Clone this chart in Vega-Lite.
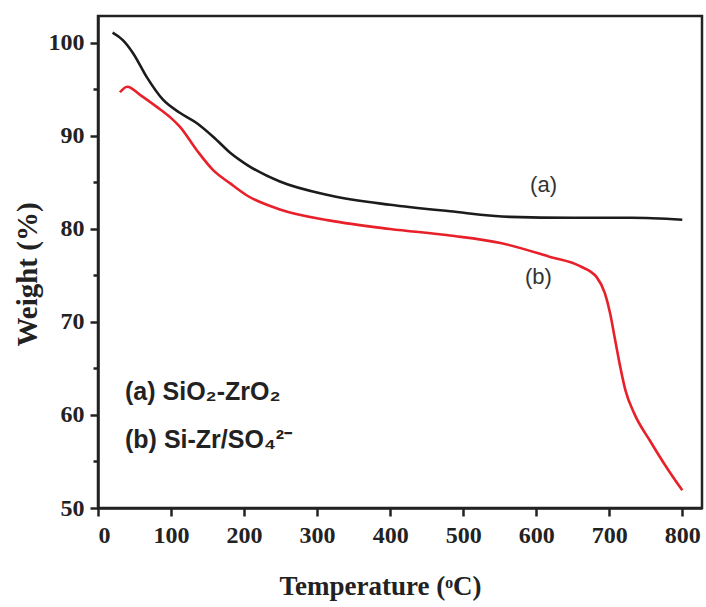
{
  "$schema": "https://vega.github.io/schema/vega-lite/v6.json",
  "autosize": {"type": "none"},
  "width": 604,
  "height": 492,
  "padding": {"left": 98, "top": 16, "right": 4, "bottom": 99},
  "background": "white",
  "config": {
    "view": {"stroke": "#222", "strokeWidth": 2.5},
    "axis": {
      "domainColor": "#222", "domainWidth": 2.5,
      "tickColor": "#222", "tickWidth": 2.5,
      "labelFont": "Liberation Serif", "labelFontWeight": "bold", "labelFontSize": 24, "labelColor": "#222",
      "titleFont": "Liberation Serif", "titleFontWeight": "bold", "titleFontSize": 27, "titleColor": "#222",
      "grid": false
    }
  },
  "datasets": {
    "curves": [
      {"s": "a", "t": 20, "w": 101.1},
      {"s": "a", "t": 34, "w": 100.3},
      {"s": "a", "t": 48, "w": 98.9},
      {"s": "a", "t": 67, "w": 96.3},
      {"s": "a", "t": 89, "w": 93.9},
      {"s": "a", "t": 112, "w": 92.5},
      {"s": "a", "t": 135, "w": 91.4},
      {"s": "a", "t": 158, "w": 89.9},
      {"s": "a", "t": 181, "w": 88.2},
      {"s": "a", "t": 204, "w": 86.9},
      {"s": "a", "t": 249, "w": 85.1},
      {"s": "a", "t": 318, "w": 83.6},
      {"s": "a", "t": 400, "w": 82.6},
      {"s": "a", "t": 482, "w": 81.9},
      {"s": "a", "t": 564, "w": 81.3},
      {"s": "a", "t": 650, "w": 81.2},
      {"s": "a", "t": 730, "w": 81.2},
      {"s": "a", "t": 800, "w": 81.0},
      {"s": "b", "t": 30, "w": 94.7},
      {"s": "b", "t": 40, "w": 95.3},
      {"s": "b", "t": 58, "w": 94.4},
      {"s": "b", "t": 81, "w": 93.1},
      {"s": "b", "t": 99, "w": 92.0},
      {"s": "b", "t": 112, "w": 91.0},
      {"s": "b", "t": 135, "w": 88.5},
      {"s": "b", "t": 158, "w": 86.3},
      {"s": "b", "t": 181, "w": 84.9},
      {"s": "b", "t": 204, "w": 83.6},
      {"s": "b", "t": 249, "w": 82.1},
      {"s": "b", "t": 318, "w": 80.9},
      {"s": "b", "t": 400, "w": 80.0},
      {"s": "b", "t": 482, "w": 79.3},
      {"s": "b", "t": 551, "w": 78.5},
      {"s": "b", "t": 619, "w": 77.0},
      {"s": "b", "t": 660, "w": 76.0},
      {"s": "b", "t": 683, "w": 74.8},
      {"s": "b", "t": 694, "w": 73.1},
      {"s": "b", "t": 701, "w": 71.0},
      {"s": "b", "t": 708, "w": 68.1},
      {"s": "b", "t": 715, "w": 65.2},
      {"s": "b", "t": 722, "w": 62.7},
      {"s": "b", "t": 734, "w": 60.2},
      {"s": "b", "t": 756, "w": 57.2},
      {"s": "b", "t": 779, "w": 54.3},
      {"s": "b", "t": 800, "w": 51.9}
    ],
    "curveLabels": [
      {"t": 610, "w": 84.7, "label": "(a)"},
      {"t": 603, "w": 74.8, "label": "(b)"}
    ],
    "legendText": [
      {"t": 37, "w": 62.5, "label": "(a) SiO₂-ZrO₂"},
      {"t": 37, "w": 57.3, "label": "(b) Si-Zr/SO₄²⁻"}
    ]
  },
  "layer": [
    {
      "data": {"name": "curves"},
      "mark": {"type": "line", "interpolate": "monotone", "strokeWidth": 2.6, "clip": true},
      "encoding": {
        "x": {
          "field": "t", "type": "quantitative",
          "scale": {"domain": [0, 827], "nice": false, "zero": false},
          "axis": {
            "values": [0, 50, 100, 150, 200, 250, 300, 350, 400, 450, 500, 550, 600, 650, 700, 750, 800],
            "labelExpr": "datum.value % 100 === 0 ? datum.label : ''",
            "tickSize": {"condition": {"test": "datum.value % 100 === 0", "value": 8}, "value": 5},
            "labelPadding": 7,
            "title": "Temperature (ᵒC)",
            "titlePadding": 26,
            "titleX": 282
          }
        },
        "y": {
          "field": "w", "type": "quantitative",
          "scale": {"domain": [50, 102.9], "nice": false, "zero": false},
          "axis": {
            "values": [50, 55, 60, 65, 70, 75, 80, 85, 90, 95, 100],
            "labelExpr": "datum.value % 10 === 0 ? datum.label : ''",
            "tickSize": {"condition": {"test": "datum.value % 10 === 0", "value": 8}, "value": 5},
            "labelPadding": 6,
            "title": "Weight (%)",
            "titleFontSize": 29,
            "titlePadding": 6,
            "titleY": 258
          }
        },
        "color": {
          "field": "s", "type": "nominal",
          "scale": {"domain": ["a", "b"], "range": ["#1c1c1c", "#e8202a"]},
          "legend": null
        },
        "order": {"field": "t", "type": "quantitative"}
      }
    },
    {
      "data": {"name": "curveLabels"},
      "mark": {"type": "text", "font": "Liberation Sans", "fontSize": 22, "color": "#333", "align": "center", "baseline": "middle"},
      "encoding": {
        "x": {"field": "t", "type": "quantitative"},
        "y": {"field": "w", "type": "quantitative"},
        "text": {"field": "label"}
      }
    },
    {
      "data": {"name": "legendText"},
      "mark": {"type": "text", "font": "Liberation Sans", "fontSize": 25, "fontWeight": "bold", "color": "#222", "align": "left", "baseline": "middle"},
      "encoding": {
        "x": {"field": "t", "type": "quantitative"},
        "y": {"field": "w", "type": "quantitative"},
        "text": {"field": "label"}
      }
    }
  ]
}
